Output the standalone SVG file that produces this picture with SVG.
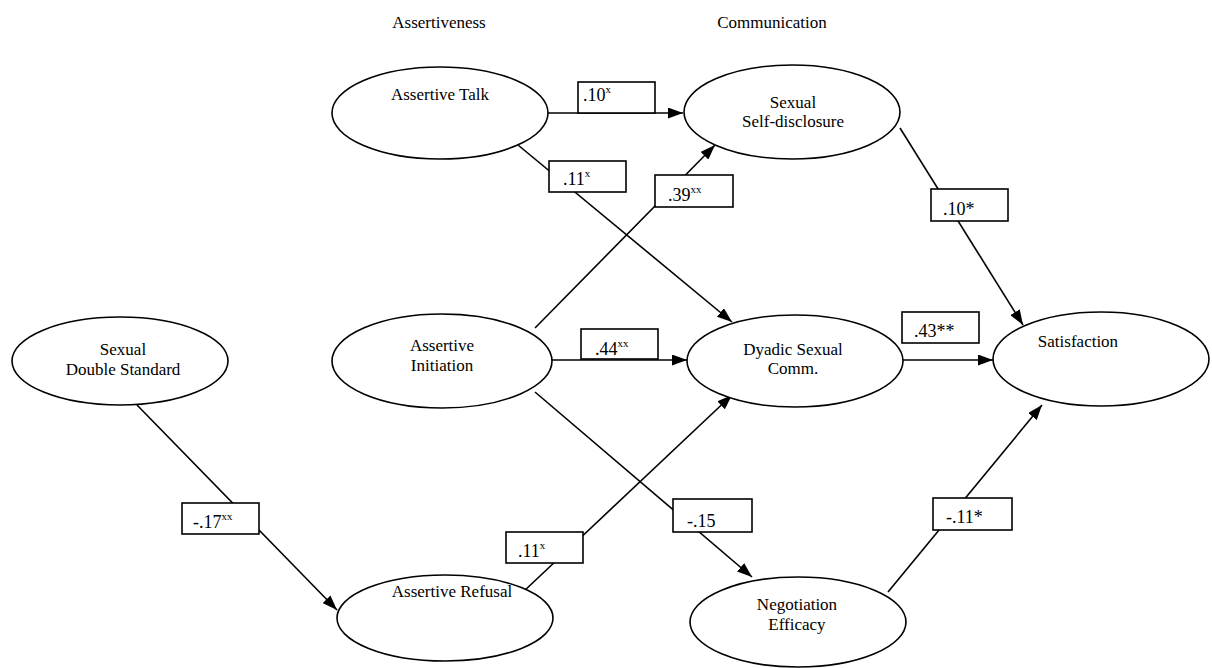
<svg xmlns="http://www.w3.org/2000/svg" width="1212" height="668" viewBox="0 0 1212 668">
<style>
text{font-family:"Liberation Serif","DejaVu Serif","Times New Roman",serif;fill:#000}
.t{font-size:17px;text-anchor:middle}
.l{font-size:18px}
.s{font-size:11px}
ellipse{fill:#fff;stroke:#000;stroke-width:1.6}
rect{fill:#fff;stroke:#000;stroke-width:1.6}
.e line{stroke:#000;stroke-width:1.6;marker-end:url(#ah)}
</style>
<defs>
<marker id="ah" markerUnits="userSpaceOnUse" markerWidth="15" markerHeight="11" refX="15" refY="5.5" orient="auto">
<path d="M0,0 L15,5.5 L0,11 z" fill="#000"/>
</marker>
</defs>
<g id="headings" font-family="Liberation Serif, DejaVu Serif, serif">
<text class="t" x="439" y="28">Assertiveness</text>
<text class="t" x="772" y="28">Communication</text>
</g>
<g id="connectors" class="e">
<line x1="548" y1="113" x2="683" y2="113"/>
<line x1="518" y1="145" x2="732" y2="322"/>
<line x1="535" y1="328" x2="715" y2="145"/>
<line x1="552" y1="360" x2="687" y2="360"/>
<line x1="535" y1="392" x2="752" y2="577"/>
<line x1="523" y1="592" x2="732" y2="395"/>
<line x1="137" y1="405" x2="337" y2="610"/>
<line x1="900" y1="128" x2="1023" y2="325"/>
<line x1="902" y1="360" x2="993" y2="360"/>
<line x1="888" y1="592" x2="1042" y2="405"/>
</g>
<g id="labels" font-family="Liberation Serif, DejaVu Serif, serif">
<rect x="578" y="82" width="77" height="31"/><text class="l" x="583" y="101">.10<tspan class="s" dy="-8">x</tspan></text>
<rect x="549" y="161" width="77" height="31"/><text class="l" x="563" y="185">.11<tspan class="s" dy="-8">x</tspan></text>
<rect x="655" y="175" width="78" height="32"/><text class="l" x="668" y="201">.39<tspan class="s" dy="-8">xx</tspan></text>
<rect x="931" y="189" width="77" height="32"/><text class="l" x="943" y="215">.10*</text>
<rect x="902" y="312" width="77" height="31"/><text class="l" x="914" y="337">.43**</text>
<rect x="581" y="329" width="77" height="30"/><text class="l" x="595" y="355">.44<tspan class="s" dy="-8">xx</tspan></text>
<rect x="182" y="503" width="77" height="31"/><text class="l" x="193" y="528">-.17<tspan class="s" dy="-8">xx</tspan></text>
<rect x="506" y="532" width="77" height="31"/><text class="l" x="518" y="557">.11<tspan class="s" dy="-8">x</tspan></text>
<rect x="673" y="499" width="79" height="33"/><text class="l" x="687" y="527">-.15</text>
<rect x="933" y="498" width="79" height="32"/><text class="l" x="946" y="523">-.11*</text>
</g>
<g font-family="Liberation Serif, DejaVu Serif, serif">
<g id="assertive-talk"><ellipse cx="440" cy="113" rx="108" ry="46"/><text class="t" x="440" y="100">Assertive Talk</text></g>
<g id="sexual-self-disclosure"><ellipse cx="792" cy="112" rx="108" ry="47"/><text class="t" x="793" y="108">Sexual</text><text class="t" x="793" y="127">Self-disclosure</text></g>
<g id="assertive-initiation"><ellipse cx="442" cy="361" rx="110" ry="47"/><text class="t" x="442" y="351">Assertive</text><text class="t" x="442" y="371">Initiation</text></g>
<g id="dyadic-sexual-comm"><ellipse cx="795" cy="361" rx="108" ry="46"/><text class="t" x="793" y="355">Dyadic Sexual</text><text class="t" x="793" y="374">Comm.</text></g>
<g id="satisfaction"><ellipse cx="1101" cy="359" rx="108" ry="47"/><text class="t" x="1078" y="347">Satisfaction</text></g>
<g id="sexual-double-standard"><ellipse cx="120" cy="361" rx="108" ry="44"/><text class="t" x="123" y="355">Sexual</text><text class="t" x="123" y="375">Double Standard</text></g>
<g id="assertive-refusal"><ellipse cx="445" cy="618" rx="108" ry="43"/><text class="t" x="452" y="597">Assertive Refusal</text></g>
<g id="negotiation-efficacy"><ellipse cx="798" cy="622" rx="108" ry="45"/><text class="t" x="797" y="610">Negotiation</text><text class="t" x="797" y="630">Efficacy</text></g>
</g>
</svg>
